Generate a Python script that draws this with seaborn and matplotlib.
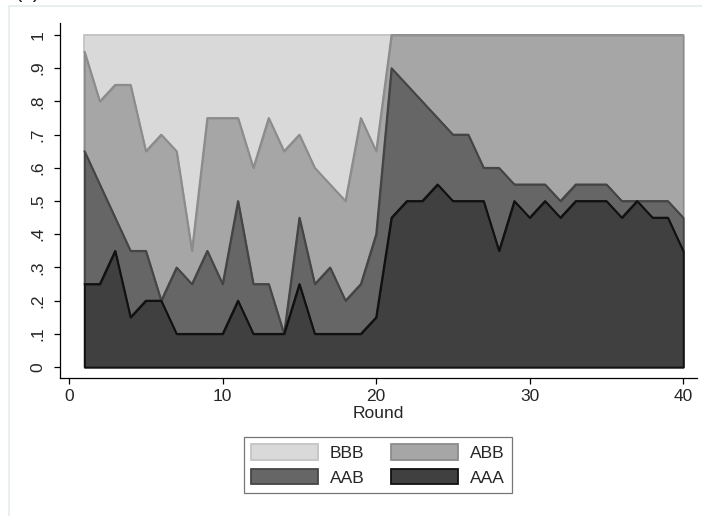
import numpy as np
import pandas as pd
import seaborn as sns
import matplotlib.pyplot as plt
from matplotlib.patches import Patch, Rectangle

# shares of each group composition per round
rounds = list(range(1, 41))
aaa = [.25, .25, .35, .15, .2, .2, .1, .1, .1, .1,
       .2, .1, .1, .1, .25, .1, .1, .1, .1, .15,
       .45, .5, .5, .55, .5, .5, .5, .35, .5, .45,
       .5, .45, .5, .5, .5, .45, .5, .45, .45, .35]
aab = [.4, .3, .1, .2, .15, 0, .2, .15, .25, .15,
       .3, .15, .15, 0, .2, .15, .2, .1, .15, .25,
       .45, .35, .3, .2, .2, .2, .1, .25, .05, .1,
       .05, .05, .05, .05, .05, .05, 0, .05, .05, .1]
abb = [.3, .25, .4, .5, .3, .5, .35, .1, .4, .5,
       .25, .35, .5, .55, .25, .35, .25, .3, .5, .25,
       .1, .15, .2, .25, .3, .3, .4, .4, .45, .45,
       .45, .5, .45, .45, .45, .5, .5, .5, .5, .55]
bbb = [.05, .2, .15, .15, .35, .3, .35, .65, .25, .25,
       .25, .4, .25, .35, .3, .4, .45, .5, .25, .35,
       0, 0, 0, 0, 0, 0, 0, 0, 0, 0,
       0, 0, 0, 0, 0, 0, 0, 0, 0, 0]

labels = ['BBB', 'ABB', 'AAB', 'AAA']
fills = ['#d9d9d9', '#a6a6a6', '#666666', '#404040']
edges = ['#c4c4c4', '#8c8c8c', '#454545', '#111111']
yticks = [0, .1, .2, .3, .4, .5, .6, .7, .8, .9, 1]
ylabels = ['0', '.1', '.2', '.3', '.4', '.5', '.6', '.7', '.8', '.9', '1']

sns.set_theme(style='ticks')
plt.rcParams['font.family'] = ['Liberation Sans', 'DejaVu Sans']

df = pd.DataFrame({'Round': rounds, 'AAA': aaa, 'AAB': aab, 'ABB': abb, 'BBB': bbb})
df['cAAA'] = df['AAA']
df['cAAB'] = df['cAAA'] + df['AAB']
df['cABB'] = df['cAAB'] + df['ABB']
df['cBBB'] = df['cABB'] + df['BBB']

W, H = 702, 516
fig = plt.figure(figsize=(W / 100, H / 100), dpi=100)
ax = fig.add_axes([60 / W, 1 - 378 / H, 637 / W, 355 / H])

for lab, fc, ec in zip(labels, fills, edges):
    col = 'c' + lab
    ax.fill_between(df['Round'], 0, df[col], facecolor=fc, edgecolor=ec, linewidth=1.3)
    sns.lineplot(data=df, x='Round', y=col, color=ec, linewidth=1.3, ax=ax)

ax.set_xlim(-0.59, 40.9)
ax.set_ylim(-0.033, 1.036)
ax.set_xticks([0, 10, 20, 30, 40])
ax.set_yticks(yticks)
ax.set_yticklabels(ylabels, rotation=90, va='center')
ax.tick_params(axis='both', labelsize=12.5, length=4.5, width=0.9, color='black')
ax.tick_params(axis='y', pad=6)
ax.tick_params(axis='x', pad=3.5)
ax.set_xlabel('Round', fontsize=12.5, labelpad=1)
ax.set_ylabel('')
sns.despine(ax=ax)
for s in ['left', 'bottom']:
    ax.spines[s].set_linewidth(0.9)
    ax.spines[s].set_color('black')

# legend reads row-wise: BBB ABB / AAB AAA
order = [0, 2, 1, 3]
handles = [Patch(facecolor=fills[i], edgecolor=edges[i], linewidth=1.3) for i in order]
leg = fig.legend(handles, [labels[i] for i in order], ncol=2, loc='center',
                 bbox_to_anchor=(378 / W, 1 - 465 / H), fontsize=12.5,
                 handlelength=3.85, handleheight=1.0, handletextpad=0.7,
                 columnspacing=1.55, labelspacing=0.45, borderpad=0.4,
                 fancybox=False, frameon=True)
leg.get_frame().set_edgecolor('#555555')
leg.get_frame().set_linewidth(0.9)

# faint outer graph-region border
fig.patches.append(Rectangle((9 / W, -0.1), 1.2, 1 - 6 / H + 0.1, transform=fig.transFigure,
                             fill=False, edgecolor='#e3ecec', linewidth=1.2))
fig.text(15 / W, 1 + 3 / H, '(c)', fontsize=16, va='baseline', ha='left')

fig.savefig('out.png', dpi=100)
